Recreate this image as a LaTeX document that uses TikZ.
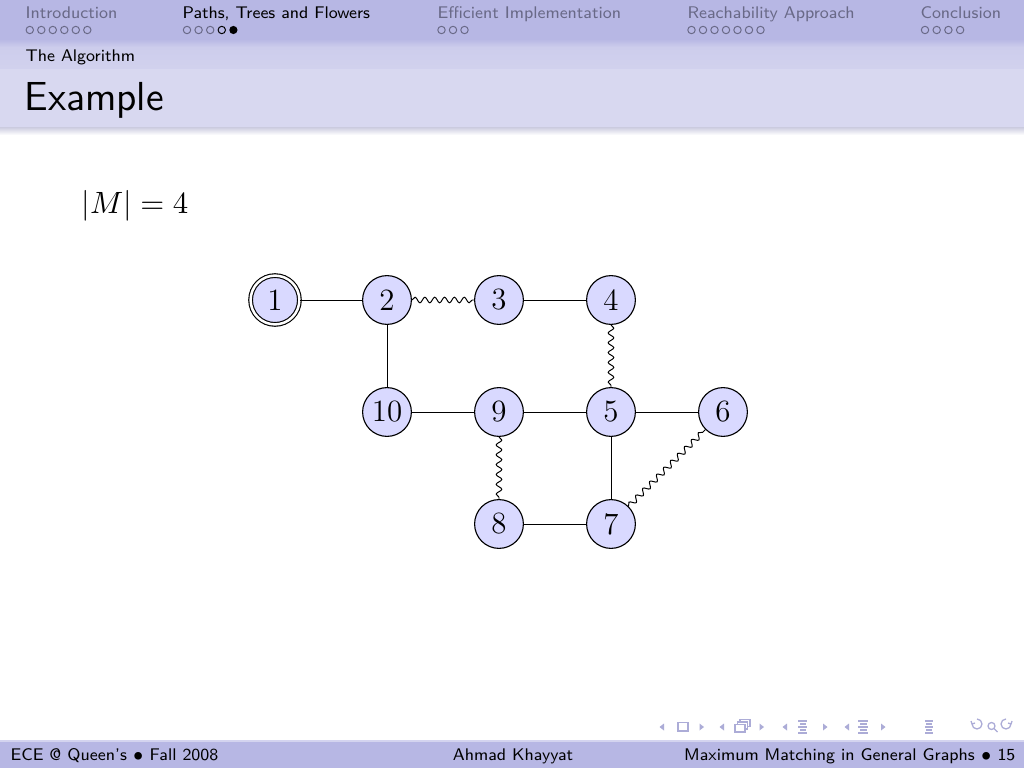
\documentclass[tikz,border=0pt]{standalone}
\usetikzlibrary{decorations.pathmorphing}
\definecolor{barA}{RGB}{183,183,228}
\definecolor{barB}{RGB}{205,205,236}
\definecolor{barC}{RGB}{216,216,240}
\definecolor{fade}{RGB}{105,105,135}
\definecolor{navc}{RGB}{172,172,215}
\definecolor{nodefill}{RGB}{217,217,255}
\tikzset{
  hdr/.style={anchor=base west, inner sep=0pt, font=\sffamily\fontsize{6}{7}\selectfont},
  vtx/.style={circle, draw, fill=nodefill, minimum size=6.1mm, inner sep=0pt, font=\fontsize{11}{13}\selectfont},
  wavy/.style={decorate, decoration={snake, amplitude=1pt, segment length=3.5pt}},
  edge/.style={line width=0.35pt},
  dotf/.style={draw=fade, line width=0.35pt},
  dotk/.style={draw=black, line width=0.35pt},
  navtri/.style={fill=navc},
  navln/.style={draw=navc, line width=0.45pt}
}
\begin{document}
\begin{tikzpicture}[x=0.125mm,y=-0.125mm]
\useasboundingbox (0,0) rectangle (1024,768);
\fill[white] (0,0) rectangle (1024,768);
% header bars
\fill[barA] (0,0) rectangle (1024,39);
\shade[top color=barA, bottom color=barB] (0,39) rectangle (1024,47);
\shade[top color=barB, bottom color=barB!60!barC] (0,47) rectangle (1024,69);
\fill[barC] (0,69) rectangle (1024,127);
\shade[top color=barC!85!gray, bottom color=white] (0,127) rectangle (1024,135);
% section navigation
\node[hdr, text=fade] (sec1) at (25,18) {Introduction};
\node[hdr, text=black] (sec2) at (182,18) {Paths, Trees and Flowers};
\node[hdr, text=fade] (sec3) at (437,18) {Efficient Implementation};
\node[hdr, text=fade] (sec4) at (687,18) {Reachability Approach};
\node[hdr, text=fade] (sec5) at (920,18) {Conclusion};
\foreach \k in {0,...,5} \draw[dotf] (29.8+11.5*\k,30) circle (3.7);
\foreach \k in {0,...,2} \draw[dotf] (187+11.6*\k,30) circle (3.7);
\draw[dotk] (187+11.6*3,30) circle (3.7);
\fill[black] (187+11.6*4,30) circle (4.1);
\foreach \k in {0,...,2} \draw[dotf] (441.5+11.5*\k,30) circle (3.7);
\foreach \k in {0,...,6} \draw[dotf] (691.5+11.5*\k,30) circle (3.7);
\foreach \k in {0,...,3} \draw[dotf] (925+11.7*\k,30) circle (3.7);
% subsection and title
\node[hdr, text=black] (subsec) at (25,61) {The Algorithm};
\node[anchor=base west, inner sep=0pt, font=\sffamily\fontsize{14.4}{16}\selectfont] (title) at (24,111) {Example};
% content
\node[anchor=base west, inner sep=0pt, font=\fontsize{11}{13}\selectfont] (card) at (81,213) {$|M| = 4$};
\node[vtx, double, double distance=0.9pt] (n1) at (275,300) {1};
\node[vtx] (n2) at (387,300) {2};
\node[vtx] (n3) at (499,300) {3};
\node[vtx] (n4) at (611,300) {4};
\node[vtx] (n10) at (387,412) {10};
\node[vtx] (n9) at (499,412) {9};
\node[vtx] (n5) at (611,412) {5};
\node[vtx] (n6) at (723,412) {6};
\node[vtx] (n8) at (499,524) {8};
\node[vtx] (n7) at (611,524) {7};
\draw[edge] (n1) -- (n2);
\draw[edge, wavy] (n2) -- (n3);
\draw[edge] (n3) -- (n4);
\draw[edge] (n2) -- (n10);
\draw[edge, wavy] (n4) -- (n5);
\draw[edge] (n10) -- (n9);
\draw[edge] (n9) -- (n5);
\draw[edge] (n5) -- (n6);
\draw[edge, wavy] (n9) -- (n8);
\draw[edge] (n8) -- (n7);
\draw[edge] (n5) -- (n7);
\draw[edge, wavy] (n7) -- (n6);
% navigation symbols
\fill[navtri] (664,723.5) -- (659.5,727) -- (664,730.5) -- cycle;
\draw[navln] (678,722.5) rectangle (688,731);
\fill[navtri] (699.5,723.5) -- (704,727) -- (699.5,730.5) -- cycle;
\fill[navtri] (724,723.5) -- (719.5,727) -- (724,730.5) -- cycle;
\draw[navln, fill=white] (740,719.5) rectangle (750,726.5);
\draw[navln, fill=white] (737.5,722) rectangle (747.5,729);
\draw[navln, fill=white] (735,724.5) rectangle (745,732);
\fill[navtri] (759.5,723.5) -- (764,727) -- (759.5,730.5) -- cycle;
\fill[navtri] (787,723.5) -- (782.5,727) -- (787,730.5) -- cycle;
\foreach \yy/\a/\b in {721/798/807,724/800/806,727/798/807,730/800/806,733/798/807} \draw[navln] (\a,\yy) -- (\b,\yy);
\fill[navtri] (823,723.5) -- (827.5,727) -- (823,730.5) -- cycle;
\fill[navtri] (849,723.5) -- (844.5,727) -- (849,730.5) -- cycle;
\foreach \yy/\a/\b in {721/858/868,724/860/867,727/858/868,730/860/867,733/858/868} \draw[navln] (\a,\yy) -- (\b,\yy);
\fill[navtri] (881,723.5) -- (885.5,727) -- (881,730.5) -- cycle;
\foreach \yy/\a/\b in {721/925/933,724/926/932,727/925/933,730/926/932,733/925/933} \draw[navln] (\a,\yy) -- (\b,\yy);
\draw[navln] (972,724) arc[start angle=180, end angle=-90, radius=5] ;
\draw[navln] (972,724) -- (971,721) (972,724) -- (975,723);
\draw[navln] (991.5,726) circle (3.5);
\draw[navln] (994,728.5) -- (997.5,732);
\draw[navln] (1011,724) arc[start angle=0, end angle=270, radius=5];
\draw[navln] (1011,724) -- (1012,721) (1011,724) -- (1008,723);
% footer
\fill[barA] (0,741) rectangle (1024,768);
\draw[barA!60!white, line width=0.4pt] (0,741) -- (1024,741);
\node[hdr, text=black] (foot1) at (10,760) {ECE @ Queen's $\bullet$ Fall 2008};
\node[hdr, anchor=base, text=black] (foot2) at (513,760) {Ahmad Khayyat};
\node[hdr, anchor=base east, text=black] (foot3) at (1016,760) {Maximum Matching in General Graphs $\bullet$ 15};
\end{tikzpicture}
\end{document}
